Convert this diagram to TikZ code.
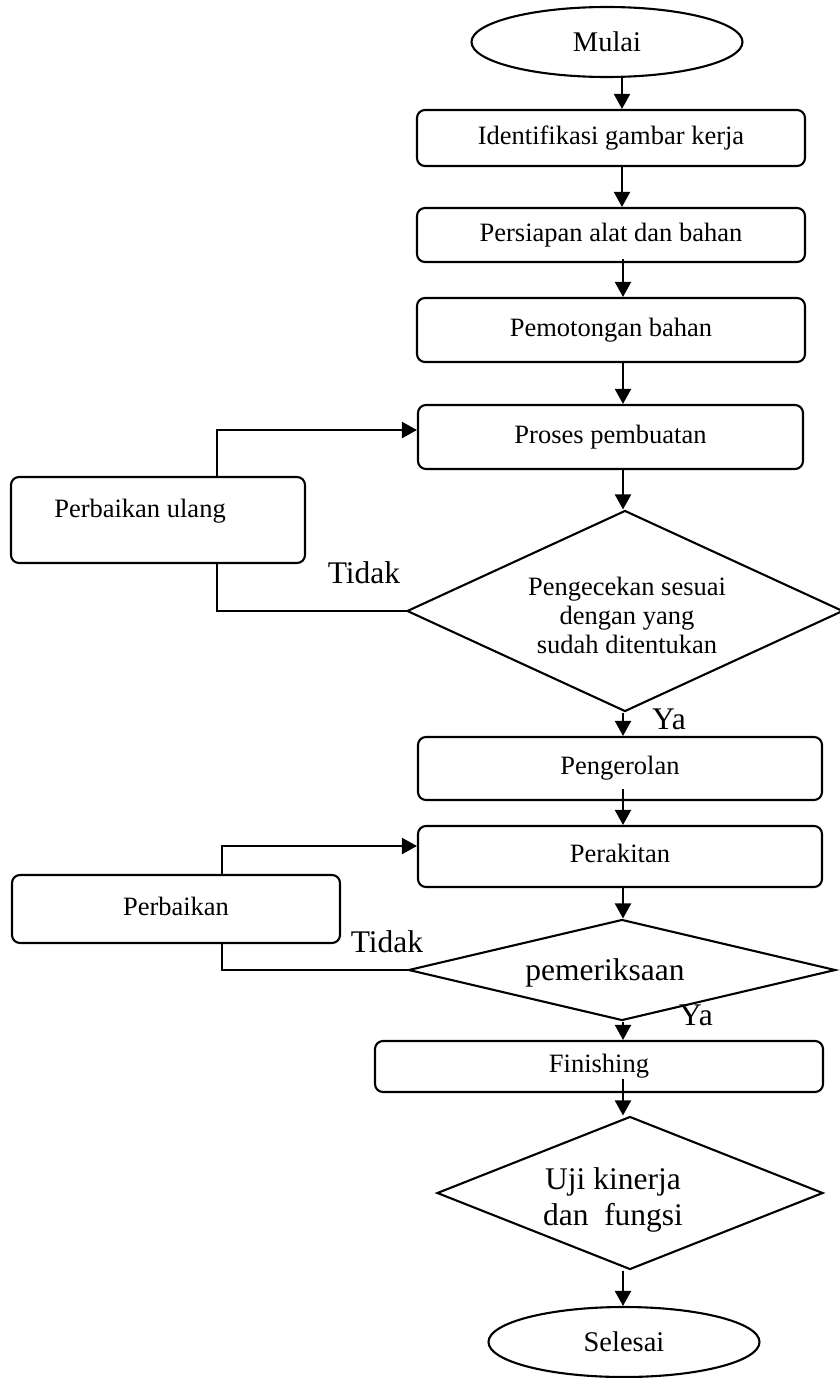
\documentclass[tikz,border=0pt]{standalone}
\usepackage{fontspec}
\setmainfont{Liberation Serif}
\usetikzlibrary{shapes.geometric,arrows.meta,calc}
\begin{document}
\begin{tikzpicture}[x=1pt,y=-1pt,
  line width=2.1pt,
  proc/.style={draw, rounded corners=8pt, inner sep=0pt, text height=18pt, text depth=6pt,
    font=\fontsize{26.5}{30}\selectfont},
  term/.style={draw, ellipse, inner sep=0pt, minimum width=271pt, minimum height=70pt,
    font=\fontsize{28.5}{32}\selectfont},
  dec/.style={draw, diamond, inner sep=0pt},
  txt/.style={inner sep=0pt, font=\fontsize{26.5}{30}\selectfont},
  big/.style={inner sep=0pt, font=\fontsize{31.5}{36}\selectfont},
  arr/.style={-{Triangle[length=15pt,width=16pt]}},
  ln/.style={line cap=rect}]
\useasboundingbox (0,0) rectangle (840,1378);

% nodes
\node[term] (mulai) at (607,42) {Mulai};
\node[proc, minimum width=388pt, minimum height=56pt] (ident) at (611,138) {Identifikasi gambar kerja};
\node[proc, minimum width=388pt, minimum height=54pt] (persiapan) at (611,235) {Persiapan alat dan bahan};
\node[proc, minimum width=388pt, minimum height=64pt] (potong) at (611,330) {Pemotongan bahan};
\node[proc, minimum width=385pt, minimum height=64pt] (proses) at (610.5,437) {Proses pembuatan};
\node[dec, minimum width=436pt, minimum height=201pt] (d1) at (625,611) {};
\node[txt, align=center, font=\fontsize{26.5}{29}\selectfont] (d1text) at (627,615)
  {Pengecekan sesuai\\dengan yang\\sudah ditentukan};
\node[proc, minimum width=294pt, minimum height=86pt] (pu) at (158,520) {};
\node[txt, anchor=base] (putext) at (140,517) {Perbaikan ulang};
\node[proc, minimum width=404pt, minimum height=63pt] (roll) at (620,768.5) {Pengerolan};
\node[proc, minimum width=404pt, minimum height=61pt] (rakit) at (620,856.5) {Perakitan};
\node[proc, minimum width=328pt, minimum height=68pt] (pb) at (176,909) {Perbaikan};
\node[dec, minimum width=427pt, minimum height=101pt] (d2) at (622,970) {};
\node[big, anchor=base] (d2text) at (605,980) {pemeriksaan};
\node[proc, minimum width=448pt, minimum height=51pt] (finish) at (599,1066.5) {Finishing};
\node[dec, minimum width=386pt, minimum height=153pt] (uji) at (630,1193) {};
\node[big, align=center] (ujitext) at (613,1200) {Uji kinerja\\dan\ \ fungsi};
\node[term] (selesai) at (624,1342) {Selesai};

% labels
\node[big, anchor=base] (tidak1) at (364,583) {Tidak};
\node[big, anchor=base] (ya1) at (669,729) {Ya};
\node[big, anchor=base] (tidak2) at (387,952) {Tidak};
\node[big, anchor=base] (ya2) at (696,1025) {Ya};

% main flow
\coordinate (ax) at (622,0);
\coordinate (bx) at (623,0);
\draw[arr] (mulai.south -| ax) -- (ident.north -| ax);
\draw[arr] (ident.south -| ax) -- (persiapan.north -| ax);
\draw[arr] ($(persiapan.south -| bx)+(0,-4)$) -- (potong.north -| bx);
\draw[arr] (potong.south -| bx) -- (proses.north -| bx);
\draw[arr] (proses.south -| bx) -- (d1.north -| bx);
\draw[arr] (d1.south -| bx) -- (roll.north -| bx);
\draw[arr] ($(roll.south -| bx)+(0,-12)$) -- (rakit.north -| bx);
\draw[arr] (rakit.south -| bx) -- (d2.north -| bx);
\draw[arr] (d2.south -| bx) -- (finish.north -| bx);
\draw[arr] ($(finish.south -| bx)+(0,-14)$) -- (uji.north -| bx);
\draw[arr] (uji.south -| bx) -- (selesai.north -| bx);

% feedback loops
\coordinate (c1) at (217,430);
\draw[ln] (d1.west) -- (d1.west -| c1) -- (pu.south -| c1);
\draw[arr] (pu.north -| c1) -- (c1) -- (c1 -| proses.west);
\coordinate (c2) at (222,846);
\draw[ln] (d2.west) -- (d2.west -| c2) -- (pb.south -| c2);
\draw[arr] (pb.north -| c2) -- (c2) -- (c2 -| rakit.west);
\end{tikzpicture}
\end{document}
